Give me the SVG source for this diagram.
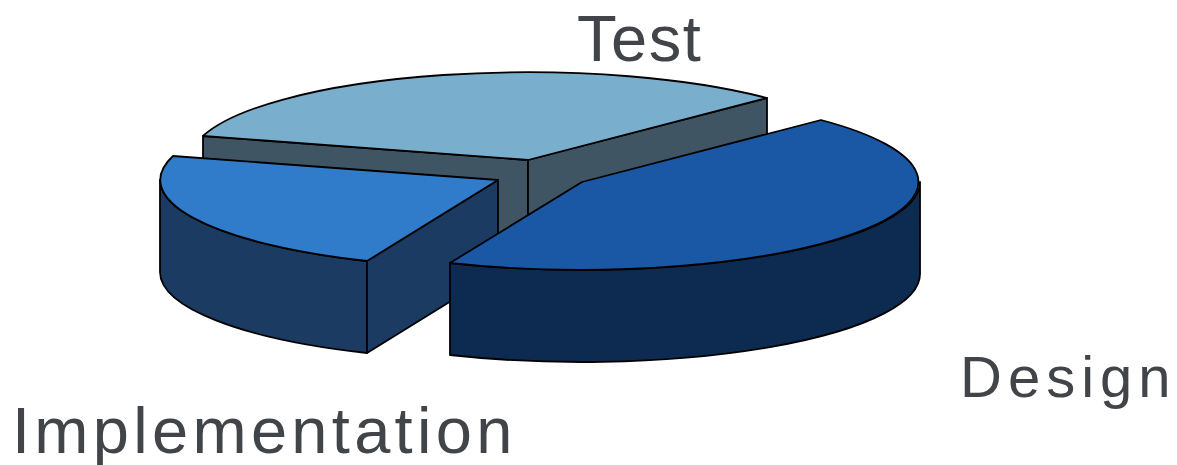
<svg xmlns="http://www.w3.org/2000/svg" width="1177" height="465" viewBox="0 0 1177 465">
<style>
.e{stroke:#000;stroke-width:1.8;stroke-linejoin:round}
.lbl{font-family:"Liberation Sans",Arial,sans-serif;fill:#414549}
</style>
<rect width="1177" height="465" fill="#fff"/>
<g id="test">
<path class="e" fill="#3f5564" d="M203,136 L528,160 L528,252 L203,228 Z"/>
<path class="e" fill="#3f5564" d="M528,160 L767,98 L767,190 L528,252 Z"/>
<path class="e" fill="#7aaecd" d="M528,160 L203,136 A338 88 0 0 1 767,98 Z"/>
</g>
<g id="implementation">
<path class="e" fill="#1b3b63" d="M367,261 A338 88 0 0 1 160,180 L160,272 A338 88 0 0 0 367,353 Z"/>
<path class="e" fill="#1b3b63" d="M498,180 L367,261 L367,353 L498,272 Z"/>
<path class="e" fill="#317bcb" d="M498,180 L367,261 A338 88 0 0 1 173,156 Z"/>
</g>
<g id="design">
<path class="e" fill="#0d2b50" d="M920,182 A338 88 0 0 1 450,263 L450,355 A338 88 0 0 0 920,274 Z"/>
<path class="e" fill="#1a58a6" d="M582,182 L821,120 A338 88 0 0 1 450,263 Z"/>
</g>
<g id="labels">
<text class="lbl" x="577" y="61" font-size="65" letter-spacing="1.5">Test</text>
<text class="lbl" x="960" y="397" font-size="58" letter-spacing="6">Design</text>
<text class="lbl" x="12" y="453" font-size="65" letter-spacing="4.3">Implementation</text>
</g>
</svg>
